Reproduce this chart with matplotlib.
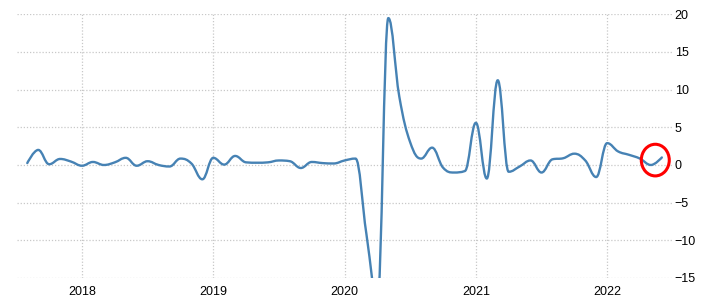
import matplotlib
matplotlib.use("Agg")
import matplotlib.pyplot as plt
import numpy as np
from matplotlib.path import Path
from matplotlib.patches import PathPatch, Ellipse

# monthly values, Aug 2017 .. Jun 2022
start_year = 2017
start_month = 8
values = [
    0.25, 2.0, 0.1, 0.8, 0.45,                                      # 2017
    -0.1, 0.4, 0.0, 0.35, 0.95, -0.1, 0.5, 0.0, -0.2, 0.85, 0.2, -1.9,  # 2018
    0.95, 0.05, 1.2, 0.35, 0.3, 0.35, 0.6, 0.5, -0.4, 0.4, 0.25, 0.2,   # 2019
    0.6, 0.85, -9.2, -18.0, 19.5, 9.1, 3.0, 0.85, 2.3, -0.35, -1.0, -0.8,  # 2020
    5.6, -1.8, 11.25, -0.9, -0.2, 0.6, -1.0, 0.75, 0.9, 1.5, 0.6, -1.6,  # 2021
    2.9, 1.8, 1.35, 0.85, 0.0, 1.0,                                   # 2022
]
year_ticks = [2018, 2019, 2020, 2021, 2022]
y_ticks = [-15, -10, -5, 0, 5, 10, 15, 20]

x = np.array([start_year + (start_month - 1 + i) / 12 for i in range(len(values))])
y = np.array(values)


def spline_controls(x, y, smoothing=1.5):
    # highcharts-style spline control points, no false extremes
    n = len(x)
    left = [(x[i], y[i]) for i in range(n)]
    right = [(x[i], y[i]) for i in range(n)]
    denom = smoothing + 1
    for i in range(1, n - 1):
        px, py = x[i], y[i]
        lx, ly = x[i - 1], y[i - 1]
        nx, ny = x[i + 1], y[i + 1]
        lcx = (smoothing * px + lx) / denom
        lcy = (smoothing * py + ly) / denom
        rcx = (smoothing * px + nx) / denom
        rcy = (smoothing * py + ny) / denom
        corr = (rcy - lcy) * (rcx - px) / (rcx - lcx) + py - rcy
        lcy += corr
        rcy += corr
        if lcy > ly and lcy > py:
            lcy = max(ly, py)
            rcy = 2 * py - lcy
        elif lcy < ly and lcy < py:
            lcy = min(ly, py)
            rcy = 2 * py - lcy
        if rcy > ny and rcy > py:
            rcy = max(ny, py)
            lcy = 2 * py - rcy
        elif rcy < ny and rcy < py:
            rcy = min(ny, py)
            lcy = 2 * py - rcy
        left[i] = (lcx, lcy)
        right[i] = (rcx, rcy)
    return left, right


fig = plt.figure(figsize=(7.11, 3.07), dpi=100)
ax = fig.add_axes([17 / 711, 29 / 307, 655 / 711, 263.7 / 307])

left, right = spline_controls(x, y)
verts = [(x[0], y[0])]
codes = [Path.MOVETO]
for i in range(1, len(x)):
    verts += [right[i - 1], left[i], (x[i], y[i])]
    codes += [Path.CURVE4] * 3
ax.add_patch(PathPatch(Path(verts, codes), fill=False, edgecolor="#4682b4",
                       lw=1.7, capstyle="round", joinstyle="round"))

# red circle round the latest value
ax.add_patch(Ellipse((x[-1] - 0.05, y[-1] - 0.35), 0.213, 4.2, fill=False,
                     edgecolor="#ff0000", lw=2.2, clip_on=False, zorder=5))

ax.set_xlim(2017.505, 2022.494)
ax.set_ylim(-15, 20)
ax.set_xticks(year_ticks)
ax.set_xticklabels([str(t) for t in year_ticks])
ax.set_yticks(y_ticks)
ax.yaxis.tick_right()
ax.grid(True, color="#c8c8c8", linestyle=(0, (1, 1.5)), lw=0.9)
ax.set_axisbelow(True)
for s in ax.spines.values():
    s.set_visible(False)
ax.tick_params(axis="both", length=0, labelsize=9, labelcolor="#000000")
ax.tick_params(axis="x", pad=6)
ax.tick_params(axis="y", pad=2)
for lab in ax.get_xticklabels() + ax.get_yticklabels():
    lab.set_fontfamily("Liberation Sans")

fig.savefig("out.png", dpi=100)
